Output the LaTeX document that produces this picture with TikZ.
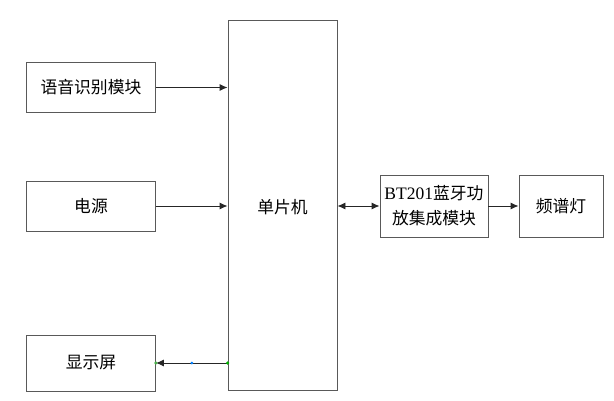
\documentclass[tikz,border=0pt]{standalone}
\usepackage{fontspec}
\setmainfont{Liberation Serif}
\newfontfamily\cjk{Noto Sans CJK SC}
\usetikzlibrary{arrows.meta,calc}
\begin{document}
\begin{tikzpicture}[x=1pt,y=-1pt,
  blk/.style={draw=black!65,line width=0.9pt,fill=white,inner sep=0pt,font=\cjk\fontsize{16.8}{25}\selectfont,align=center},
  arr/.style={draw=black!85,line width=0.9pt,-{Latex[length=8pt,width=7pt]}},
  darr/.style={draw=black!85,line width=0.9pt,{Latex[length=8pt,width=7pt]}-{Latex[length=8pt,width=7pt]}},
  gdot/.style={circle,fill=green!70!black,inner sep=0pt,minimum size=3.5pt},
  bdot/.style={circle,fill=blue!50!cyan,inner sep=0pt,minimum size=3pt}]
\useasboundingbox (0,0) rectangle (614,401);
\fill[white] (0,0) rectangle (614,401);
\node[blk,minimum width=129pt,minimum height=50pt] (a) at (91,87.5) {语音识别模块};
\node[blk,minimum width=129pt,minimum height=50pt] (b) at (91,206) {电源};
\node[blk,minimum width=129pt,minimum height=56pt] (c) at (91,363) {显示屏};
\node[blk,minimum width=109pt,minimum height=370pt] (m) at (282.5,205.5) {};
\node[font=\cjk\fontsize{16.8}{25}\selectfont] (mt) at (282.5,207) {单片机};
\node[blk,minimum width=108pt,minimum height=62pt] (bt) at (434,206) {{\rmfamily\fontsize{17.5}{25}\selectfont BT201}蓝牙功\\放集成模块};
\node[blk,minimum width=84pt,minimum height=62pt] (l) at (561,206) {频谱灯};
\draw[arr] (a.east) -- (a.east -| m.west);
\draw[arr] (b.east) -- (b.east -| m.west);
\draw[arr] (c.east -| m.west) -- (c.east);
\draw[darr] (bt.west -| m.east) -- (bt.west);
\draw[arr] (bt.east) -- (l.west);
\node[gdot] (g1) at (c.east -| m.west) {};
\node[gdot,fill=green!40!gray] (g2) at (c.east) {};
\node[bdot] (bd) at ($(c.east)!0.5!(c.east -| m.west)$) {};
\end{tikzpicture}
\end{document}
